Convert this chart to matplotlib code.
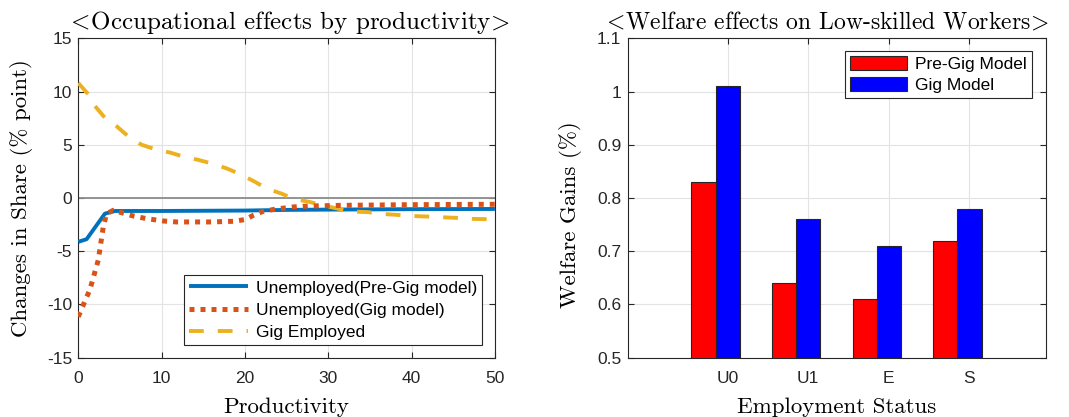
import matplotlib
matplotlib.use("Agg")
import matplotlib.pyplot as plt
from matplotlib.ticker import FuncFormatter

plt.rcParams["font.family"] = ["Liberation Sans", "DejaVu Sans"]
plt.rcParams["mathtext.fontset"] = "cm"
plt.rcParams["axes.unicode_minus"] = False

# ---- left panel: occupational effects by productivity ----
x_pre = [0, 1, 3.2, 4.4, 10, 20, 25, 30, 40, 50]
unemp_pre = [-4.12, -3.87, -1.47, -1.22, -1.22, -1.18, -1.12, -1.09, -1.05, -1.03]

x_gig = [0, 1.4, 2.4, 3.0, 3.4, 4.2, 5.2, 6.6, 8.2, 10.2, 11.8, 15.8, 18.6, 20,
         21, 22.2, 23.8, 25.8, 27.8, 31.8, 39.8, 50]
unemp_gig = [-11.16, -8.6, -5.84, -2.72, -1.47, -1.16, -1.38, -1.69, -1.94, -2.16,
             -2.25, -2.25, -2.19, -2.03, -1.63, -1.25, -1.03, -0.84, -0.75, -0.69,
             -0.63, -0.59]

x_emp = [0, 1.2, 2, 3.2, 4.6, 6, 7.6, 9.2, 11, 12.6, 14.4, 16.2, 17.8, 19.4, 21.2,
         22.6, 24.4, 25.8, 27.8, 29.4, 31.2, 32.8, 34.8, 36.2, 38.2, 39.6, 41.8,
         43.4, 45.4, 47, 50]
gig_employed = [10.8, 9.75, 8.64, 7.53, 6.74, 5.79, 5.0, 4.59, 4.27, 3.89, 3.58,
                3.2, 2.78, 2.25, 1.52, 0.89, 0.41, -0.06, -0.38, -0.70, -1.01, -1.27,
                -1.33, -1.49, -1.58, -1.68, -1.74, -1.80, -1.87, -1.96, -2.0]

# ---- right panel: welfare effects ----
statuses = ["U0", "U1", "E", "S"]
pre_gig = [0.83, 0.64, 0.61, 0.72]
gig = [1.01, 0.76, 0.71, 0.78]

c_blue = (0.0, 0.447, 0.741)
c_red = (0.85, 0.325, 0.098)
c_yel = (0.929, 0.694, 0.125)
edge = (0.15, 0.15, 0.15)
gridc = "#e3e3e3"
serif = "cmr10"

fig = plt.figure(figsize=(10.69, 4.17), dpi=100)
ax1 = fig.add_axes([0.0732, 0.1422, 0.3898, 0.766])
ax2 = fig.add_axes([0.5872, 0.1422, 0.3913, 0.766])


def style_axes(ax):
    for s in ax.spines.values():
        s.set_color(edge)
        s.set_linewidth(0.8)
    ax.tick_params(direction="in", top=True, right=True, length=4, width=0.8,
                   colors=edge, labelsize=12.5, labelcolor=(0.15, 0.15, 0.15))
    ax.tick_params(axis="y", pad=4.5)
    ax.tick_params(axis="x", pad=9.5)
    ax.grid(True, color=gridc, linewidth=0.8)
    ax.set_axisbelow(True)


leg_kw = dict(borderaxespad=0, fontsize=12.5, handletextpad=0.45,
              borderpad=0.3, fancybox=False, framealpha=1, edgecolor=edge)

style_axes(ax1)
ax1.axhline(0, color="#8c8c8c", linewidth=1.3, zorder=1.5)
ax1.plot(x_pre, unemp_pre, color=c_blue, linewidth=2.8, solid_capstyle="butt",
         label="Unemployed(Pre-Gig model)", zorder=3)
ax1.plot(x_gig, unemp_gig, color=c_red, linewidth=3.6, dashes=(1.0, 1.2),
         dash_capstyle="butt", label="Unemployed(Gig model)", zorder=4)
ax1.plot(x_emp, gig_employed, color=c_yel, linewidth=2.8, dashes=(3.8, 3.6),
         dash_capstyle="butt", label="Gig Employed", zorder=3)
ax1.set_xlim(0, 50)
ax1.set_ylim(-15, 15)
ax1.set_xticks(range(0, 51, 10))
ax1.set_yticks(range(-15, 16, 5))
ax1.set_title(r"$\!<\!$Occupational effects by productivity$\!>\!$", fontfamily=serif,
              fontsize=18, pad=7, x=0.508)
ax1.set_xlabel("Productivity", fontfamily=serif, fontsize=16.5)
ax1.set_ylabel("Changes in Share (% point)", fontfamily=serif, fontsize=16.5)
ax1.xaxis.set_label_coords(0.5, -0.125)
ax1.yaxis.set_label_coords(-0.109, 0.5)
leg1 = ax1.legend(loc="lower right", bbox_to_anchor=(0.970, 0.040),
                  handlelength=3.4, labelspacing=0.4, **leg_kw)
leg1.get_frame().set_linewidth(0.8)

style_axes(ax2)
pos = list(range(1, len(statuses) + 1))
ax2.bar([p - 0.3 for p in pos], pre_gig, width=0.3, color="red", edgecolor=edge,
        linewidth=0.8, label="Pre-Gig Model", zorder=3)
ax2.bar(pos, gig, width=0.3, color="blue", edgecolor=edge, linewidth=0.8,
        label="Gig Model", zorder=3)
ax2.set_xlim(-0.24, 4.95)
ax2.set_ylim(0.5, 1.1)
ax2.set_xticks(pos)
ax2.set_xticklabels(statuses)
ax2.set_yticks([0.5, 0.6, 0.7, 0.8, 0.9, 1.0, 1.1])
ax2.yaxis.set_major_formatter(FuncFormatter(lambda v, _: "%g" % round(v, 2)))
ax2.set_title(r"$\!<\!$Welfare effects on Low-skilled Workers$\!>\!$", fontfamily=serif,
              fontsize=17, pad=7, x=0.478)
ax2.set_xlabel("Employment Status", fontfamily=serif, fontsize=16.5)
ax2.set_ylabel("Welfare Gains (%)", fontfamily=serif, fontsize=16.5)
ax2.xaxis.set_label_coords(0.5, -0.125)
ax2.yaxis.set_label_coords(-0.109, 0.447)
leg2 = ax2.legend(loc="upper right", bbox_to_anchor=(0.9665, 0.961),
                  handlelength=3.3, handleheight=0.86, labelspacing=0.3, **leg_kw)
leg2.get_frame().set_linewidth(0.8)

fig.savefig("out.png", dpi=100)
